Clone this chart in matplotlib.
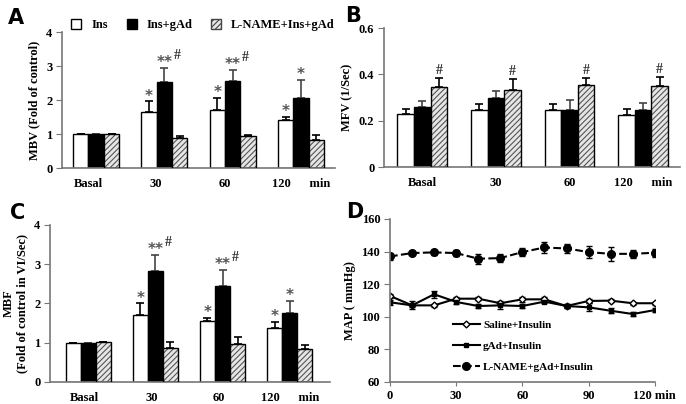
import numpy as np
import matplotlib
matplotlib.use("Agg")
import matplotlib.pyplot as plt
from matplotlib.patches import Patch
from matplotlib.lines import Line2D

plt.rcParams['font.family'] = ['Liberation Serif', 'DejaVu Serif']
plt.rcParams['font.weight'] = 'bold'
plt.rcParams['hatch.linewidth'] = 0.8

groups = ["Basal", "30", "60", "120"]
series_names = ["Ins", "Ins+gAd", "L-NAME+Ins+gAd"]

# panel A - MBV
mbv_ins = [1.0, 1.65, 1.72, 1.41]
mbv_ins_err = [0, 0.32, 0.34, 0.10]
mbv_gad = [1.0, 2.54, 2.57, 2.05]
mbv_gad_err = [0, 0.41, 0.32, 0.55]
mbv_ln = [1.01, 0.87, 0.94, 0.83]
mbv_ln_err = [0, 0.08, 0.04, 0.13]
mbv_marks = [["", "*", "*", "*"], ["", "**#", "**#", "*"], ["", "", "", ""]]

# panel B - MFV
mfv_ins = [0.228, 0.245, 0.245, 0.224]
mfv_ins_err = [0.022, 0.026, 0.028, 0.026]
mfv_gad = [0.258, 0.296, 0.248, 0.248]
mfv_gad_err = [0.029, 0.032, 0.043, 0.029]
mfv_ln = [0.345, 0.332, 0.354, 0.348]
mfv_ln_err = [0.040, 0.048, 0.030, 0.040]
mfv_marks = [["", "", "", ""], ["", "", "", ""], ["#", "#", "#", "#"]]

# panel C - MBF
mbf_ins = [1.0, 1.70, 1.55, 1.38]
mbf_ins_err = [0, 0.30, 0.08, 0.15]
mbf_gad = [1.0, 2.82, 2.45, 1.76]
mbf_gad_err = [0, 0.41, 0.40, 0.30]
mbf_ln = [1.01, 0.87, 0.98, 0.83]
mbf_ln_err = [0, 0.15, 0.17, 0.10]
mbf_marks = [["", "*", "*", "*"], ["", "**#", "**#", "*"], ["", "", "", ""]]

# panel D - MAP
minutes = [0, 10, 20, 30, 40, 50, 60, 70, 80, 90, 100, 110, 120]
map_saline = [112.8, 107.0, 107.0, 111.1, 111.1, 108.3, 110.7, 110.7, 106.6, 109.7, 109.9, 108.3, 108.3]
map_saline_err = [1, 1, 1, 1, 1, 1, 1.5, 1.5, 1, 1.5, 1, 1, 1]
map_gad = [108.9, 107.0, 113.8, 109.1, 106.6, 107.0, 106.6, 109.3, 106.6, 105.8, 103.7, 101.7, 104.1]
map_gad_err = [1.5, 2.5, 2, 1, 1, 2.5, 1.5, 1, 1.5, 2.5, 1.5, 1.5, 1]
map_ln = [137.0, 139.1, 139.5, 139.1, 135.6, 136.0, 139.7, 142.5, 141.9, 139.7, 138.6, 138.6, 139.3]
map_ln_err = [2, 1, 1.5, 2, 3, 2.5, 2.5, 3.5, 2.5, 3.5, 4.5, 2.5, 2.5]
map_names = ["Saline+Insulin", "gAd+Insulin", "L-NAME+gAd+Insulin"]

spine_color = "#777777"
fs = 9


def style_axes(ax):
    for s in ["top", "right"]:
        ax.spines[s].set_visible(False)
    for s in ["left", "bottom"]:
        ax.spines[s].set_color(spine_color)
        ax.spines[s].set_linewidth(1.2)
    ax.tick_params(axis="y", direction="out", length=4, color=spine_color, labelsize=fs, pad=3)
    for lab in ax.get_yticklabels() + ax.get_xticklabels():
        lab.set_fontweight("bold")


def bar_panel(ax, means, errs, marks, ylim, yticks, ylabel, xlim, mark_gap, label_shift=0.0):
    x = np.arange(len(groups))
    w = 0.225
    offsets = [-w, 0, w]
    for i, (m, e) in enumerate(zip(means, errs)):
        xs = x + offsets[i]
        if i == 0:
            ax.bar(xs, m, w, color="white", edgecolor="black", linewidth=1, zorder=2)
        elif i == 1:
            ax.bar(xs, m, w, color="black", edgecolor="black", linewidth=1, zorder=2)
        else:
            ax.bar(xs, m, w, color="#e6e6e6", edgecolor="#555555", hatch="//////", linewidth=0, zorder=2)
            ax.bar(xs, m, w, color="none", edgecolor="black", linewidth=1, zorder=3)
        ax.errorbar(xs, m, yerr=[np.zeros(len(e)), e], fmt="none", ecolor="black" if i != 1 else "#444444",
                    elinewidth=1.2, capsize=3, capthick=1.2, zorder=1)
        for xi, mi, ei, t in zip(xs, m, e, marks[i]):
            if not t:
                continue
            y0 = mi + ei + mark_gap
            stars = t.replace("#", "")
            if stars:
                ax.annotate(stars, (xi, y0), xytext=(0, -3), textcoords="offset points", ha="center",
                            va="bottom", fontsize=11, color="#555555", family="DejaVu Sans")
            if "#" in t:
                dx = 9 if stars else 0
                ax.annotate("#", (xi, y0), xytext=(dx, 3 if stars else 0), textcoords="offset points",
                            ha="center", va="bottom", fontsize=10, color="#333333", fontweight="bold")
    ax.set_xlim(*xlim)
    ax.set_ylim(*ylim)
    ax.set_yticks(yticks)
    ax.set_yticklabels([("%g" % v) for v in yticks])
    ax.set_xticks(x + np.array([label_shift, label_shift, label_shift, 0]))
    ax.set_xticklabels(["Basal", "30", "60", "120      min"], fontsize=fs, fontweight="bold")
    ax.tick_params(axis="x", length=0, pad=7)
    ax.set_ylabel(ylabel, fontsize=fs, fontweight="bold", labelpad=4)
    style_axes(ax)


fig = plt.figure(figsize=(6.86, 4.04), dpi=100)

axA = fig.add_axes([0.0904, 0.584, 0.398, 0.3366])
bar_panel(axA, [mbv_ins, mbv_gad, mbv_ln], [mbv_ins_err, mbv_gad_err, mbv_ln_err], mbv_marks,
          (0, 4), [0, 1, 2, 3, 4], "MBV (Fold of control)", (-0.5, 3.5), 0.05, label_shift=-0.12)

axB = fig.add_axes([0.5598, 0.5866, 0.4315, 0.344])
bar_panel(axB, [mfv_ins, mfv_gad, mfv_ln], [mfv_ins_err, mfv_gad_err, mfv_ln_err], mfv_marks,
          (0, 0.6), [0, 0.2, 0.4, 0.6], "MFV (1/Sec)", (-0.52, 3.5), 0.004)

axC = fig.add_axes([0.0729, 0.0545, 0.408, 0.3886])
bar_panel(axC, [mbf_ins, mbf_gad, mbf_ln], [mbf_ins_err, mbf_gad_err, mbf_ln_err], mbf_marks,
          (0, 4), [0, 1, 2, 3, 4], "MBF\n(Fold of control in VI/Sec)", (-0.57, 3.6), 0.05, label_shift=-0.06)

# legend for bar panels, drawn along the top of panel A
legend_patches = [Patch(facecolor="white", edgecolor="black", linewidth=1),
                  Patch(facecolor="black", edgecolor="black", linewidth=1),
                  Patch(facecolor="#e6e6e6", edgecolor="#444444", hatch="//////", linewidth=1)]
fig.legend(legend_patches, series_names, loc="center left", bbox_to_anchor=(0.095, 0.938), ncol=3,
           frameon=False, handlelength=0.8, handleheight=0.8, handletextpad=0.8, columnspacing=1.5,
           borderpad=0, prop={"weight": "bold", "size": fs})

axD = fig.add_axes([0.5685, 0.0545, 0.386, 0.4035])
axD.errorbar(minutes, map_saline, yerr=map_saline_err, color="black", lw=1.5, marker="D", ms=3.5,
             mfc="white", mec="black", mew=1, capsize=2.5, elinewidth=1)
axD.errorbar(minutes, map_gad, yerr=map_gad_err, color="black", lw=1.5, marker="s", ms=3,
             capsize=2.5, elinewidth=1)
axD.errorbar(minutes, map_ln, yerr=map_ln_err, color="black", lw=1.5, ls="--", marker="o", ms=5.5,
             capsize=2.5, elinewidth=1)
axD.set_xlim(0, 120)
axD.set_ylim(60, 160)
axD.set_yticks([60, 80, 100, 120, 140, 160])
axD.set_xticks([0, 30, 60, 90, 120])
axD.set_xticklabels(["0", "30", "60", "90", "120 min"], fontsize=fs, fontweight="bold")
axD.tick_params(axis="x", direction="out", length=3, color=spine_color, pad=3)
axD.set_ylabel("MAP ( mmHg)", fontsize=fs, fontweight="bold")
style_axes(axD)
hD = [Line2D([], [], color="black", lw=1.5, marker="D", ms=3.5, mfc="white", mec="black"),
      Line2D([], [], color="black", lw=1.5, marker="s", ms=3),
      Line2D([], [], color="black", lw=1.5, ls="--", marker="o", ms=5.5)]
axD.legend(hD, map_names, loc="lower left", bbox_to_anchor=(0.2, 0.0), frameon=False, handlelength=2.4,
           handletextpad=0.3, labelspacing=1.0, prop={"weight": "bold", "size": 8})

# panel letters
for t, x, y in [("A", 0.012, 0.955), ("B", 0.503, 0.96), ("C", 0.015, 0.473), ("D", 0.505, 0.475)]:
    fig.text(x, y, t, fontsize=15, fontweight="bold", family="DejaVu Sans", va="center")

fig.savefig("out.png", dpi=100)
